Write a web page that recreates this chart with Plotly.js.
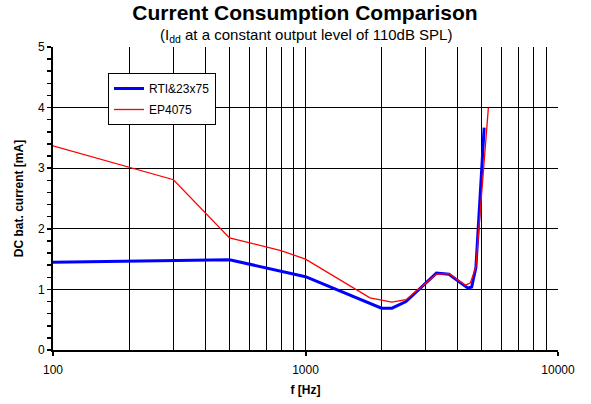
<!DOCTYPE html>
<html>
<head>
<meta charset="utf-8">
<script src="https://cdn.plot.ly/plotly-3.0.1.min.js"></script>
<style>
  html, body { margin: 0; padding: 0; background: #fff; }
  #chart { width: 591px; height: 404px; }
</style>
</head>
<body>
<div id="chart"></div>
<script>
// ---- data ----
const rtiFreq = [100, 300, 500, 1000, 2000, 2200, 2500, 3300, 3700, 4400, 4550, 4730, 5100];
const rtiCurrent = [1.45, 1.48, 1.49, 1.21, 0.69, 0.69, 0.80, 1.27, 1.25, 1.02, 1.04, 1.36, 3.67];

const epFreq = [100, 300, 500, 800, 1000, 1800, 2200, 2500, 3300, 3700, 4300, 4500, 4730, 5300];
const epCurrent = [3.37, 2.81, 1.85, 1.64, 1.50, 0.86, 0.79, 0.83, 1.25, 1.26, 1.07, 1.11, 1.37, 4.00];

const seriesNames = ['RTI&23x75', 'EP4075'];

const xMajorVals = [100, 1000, 10000];
const xMajorText = ['100', '1000', '10000'];
const xMinorVals = [200, 300, 400, 500, 600, 700, 800, 900,
                    2000, 3000, 4000, 5000, 6000, 7000, 8000, 9000];

const titleText = 'Current Consumption Comparison';
const subtitleText = '(I<sub>dd</sub> at a constant output level of 110dB SPL)';
const xTitle = 'f [Hz]';
const yTitle = 'DC bat. current [mA]';

// ---- chart ----
const FONT = 'Liberation Sans, Arial, sans-serif';

const traces = [
  {
    x: rtiFreq, y: rtiCurrent, name: seriesNames[0], type: 'scatter', mode: 'lines',
    line: { color: '#0000ff', width: 3 }, legendgroup: 'a'
  },
  {
    x: epFreq, y: epCurrent, name: seriesNames[1], type: 'scatter', mode: 'lines',
    line: { color: '#ff0000', width: 1.3 }, legendgroup: 'b'
  }
];

const layout = {
  width: 591, height: 404,
  margin: { l: 53, r: 33, t: 47, b: 54 },
  paper_bgcolor: '#ffffff', plot_bgcolor: '#ffffff',
  font: { family: FONT, color: '#000', size: 12 },
  showlegend: true,
  title: {
    text: '<b>' + titleText + '</b>',
    font: { family: FONT, size: 21, color: '#000' },
    x: 305 / 591, xanchor: 'center', xref: 'container',
    y: 1 - 13 / 404, yanchor: 'middle', yref: 'container'
  },
  annotations: [{
    text: subtitleText, xref: 'paper', yref: 'paper',
    x: 0.5, y: 1 + 11 / 303, xanchor: 'center', yanchor: 'middle',
    showarrow: false, font: { family: FONT, size: 15, color: '#000' }
  }],
  xaxis: {
    type: 'log', range: [2, 4],
    tickmode: 'array', tickvals: xMajorVals, ticktext: xMajorText,
    showgrid: true, gridcolor: '#000', gridwidth: 1,
    ticks: 'outside', ticklen: 4, tickwidth: 2, tickcolor: '#000',
    ticklabelstandoff: 4,
    minor: { tickmode: 'array', tickvals: xMinorVals, showgrid: true, gridcolor: '#000', gridwidth: 1,
             ticks: 'inside', ticklen: 2, tickwidth: 1, tickcolor: '#000' },
    showline: true, linecolor: '#000', linewidth: 2,
    zeroline: false, tickfont: { family: FONT, size: 12, color: '#000' },
    title: { text: '<b>' + xTitle + '</b>', font: { family: FONT, size: 12, color: '#000' }, standoff: 9 },
    fixedrange: true
  },
  yaxis: {
    range: [0, 5], dtick: 1, tick0: 0,
    showgrid: true, gridcolor: '#000', gridwidth: 1,
    ticks: 'outside', ticklen: 4, tickwidth: 1.5, tickcolor: '#000',
    minor: { dtick: 0.2, ticks: 'outside', ticklen: 4, tickwidth: 1.5, tickcolor: '#000', showgrid: false },
    showline: true, linecolor: '#000', linewidth: 2,
    zeroline: false, tickfont: { family: FONT, size: 12, color: '#000' },
    title: { text: '<b>' + yTitle + '</b>', font: { family: FONT, size: 12, color: '#000' }, standoff: 12 },
    fixedrange: true
  },
  xaxis2: {
    type: 'log', range: [2, 4], overlaying: 'x', anchor: 'y', side: 'bottom',
    tickmode: 'array', tickvals: xMajorVals, ticks: 'inside', ticklen: 4, tickwidth: 2, tickcolor: '#000',
    showticklabels: false, showgrid: false, showline: false, zeroline: false, fixedrange: true
  },
  yaxis2: {
    range: [0, 5], dtick: 1, overlaying: 'y', anchor: 'x', side: 'left',
    ticks: 'inside', ticklen: 4, tickwidth: 1.5, tickcolor: '#000',
    showticklabels: false, showgrid: false, showline: false, zeroline: false, fixedrange: true
  },
  legend: {
    x: (108 - 53) / 505, y: (350 - 73) / 303, xanchor: 'left', yanchor: 'top',
    bgcolor: '#ffffff', bordercolor: '#000', borderwidth: 1,
    font: { family: FONT, size: 12, color: '#000' },
    traceorder: 'grouped', tracegroupgap: 2
  }
};

Plotly.newPlot('chart', traces, layout, { staticPlot: true, displayModeBar: false });
</script>
</body>
</html>
